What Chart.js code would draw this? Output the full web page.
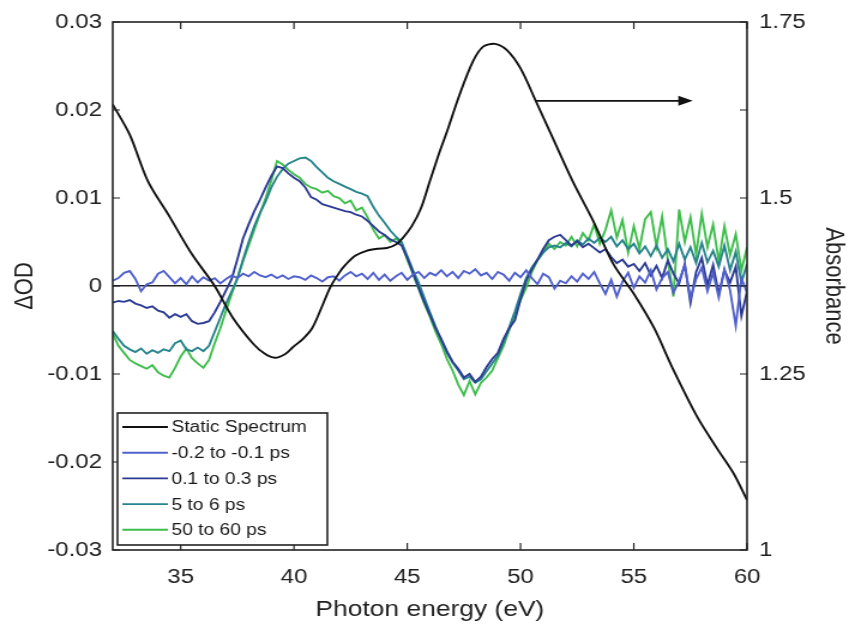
<!DOCTYPE html>
<html>
<head>
<meta charset="utf-8">
<script src="https://cdn.jsdelivr.net/npm/chart.js@4.4.1/dist/chart.umd.min.js"></script>
<style>
  html, body { margin: 0; padding: 0; background: #fff; }
  #chart { display: block; }
</style>
</head>
<body>
<!-- the source figure is stretched sideways, so the canvas is drawn narrower and widened by css -->
<canvas id="chart" width="708" height="632" style="width:849px;height:632px"></canvas>
<script>
  // photon energy grid of the transient spectra (eV)
  const ENERGY = [
    32, 32.25, 32.5, 32.75, 33, 33.25, 33.5, 33.75, 34, 34.25, 34.5, 34.75,
    35, 35.25, 35.5, 35.75, 36, 36.25, 36.5, 36.75, 37, 37.25, 37.5, 37.75,
    38, 38.25, 38.5, 38.75, 39, 39.25, 39.5, 39.75, 40, 40.25, 40.5, 40.75,
    41, 41.25, 41.5, 41.75, 42, 42.25, 42.5, 42.75, 43, 43.25, 43.5, 43.75,
    44, 44.25, 44.5, 44.75, 45, 45.25, 45.5, 45.75, 46, 46.25, 46.5, 46.75,
    47, 47.25, 47.5, 47.75, 48, 48.25, 48.5, 48.75, 49, 49.25, 49.5, 49.75,
    50, 50.25, 50.5, 50.75, 51, 51.25, 51.5, 51.75, 52, 52.25, 52.5, 52.75,
    53, 53.25, 53.5, 53.75, 54, 54.25, 54.5, 54.75, 55, 55.25, 55.5, 55.75,
    56, 56.25, 56.5, 56.75, 57, 57.25, 57.5, 57.75, 58, 58.25, 58.5, 58.75,
    59, 59.25, 59.5, 59.75, 60
  ];

  // transient spectra, in mOD (converted to OD when the datasets are built)
  const DELAY_NEG = [
    0.6, 0.9, 1.5, 1.7, 0.8, -0.6, 0.2, 0.4, 1.4, 1.7, 1.0, 0.3,
    0.9, 0.2, 1.1, 0.4, 1.0, 0.6, 0.9, 0.3, 0.8, 1.2, 0.9, 1.4,
    1.1, 1.6, 1.2, 1.0, 1.3, 0.9, 1.2, 0.8, 1.1, 1.0, 0.7, 1.2,
    0.9, 0.5, 1.0, 1.1, 0.6, 1.2, 1.6, 1.1, 1.4, 0.8, 1.5, 0.7,
    1.3, 0.6, 1.1, 1.5, 0.7, 1.3, 1.6, 0.9, 1.5, 1.2, 1.8, 1.1,
    1.6, 0.9, 1.7, 1.4, 1.9, 1.2, 1.5, 0.8, 1.6, 1.3, 0.6, 1.5,
    1.0, 1.8, 0.9, 0.2, 1.4, 1.0, -0.3, 0.6, 0.3, 1.1, 0.5, 1.4,
    0.8, 1.6, 0.3, -0.9, 0.7, -1.2, 0.5, 1.5, -0.2, 1.1, 0.4, 1.8,
    -0.4, 0.9, 1.6, -0.8, 0.6, 2.3, -1.4, 0.8, 2.1, -0.6, 1.5, -1.3,
    1.9, -0.5, -4.5, 0.9, -0.8
  ];
  const DELAY_SHORT = [
    -1.9, -1.7, -1.8, -1.6, -2.0, -2.2, -2.5, -2.3, -2.8, -3.0, -3.6, -3.2,
    -3.5, -3.2, -4.0, -4.3, -4.2, -4.0, -3.0, -1.8, -0.5, 0.8, 3.0, 5.4,
    7.0, 8.5, 9.8, 11.2, 12.5, 13.6, 13.4, 12.8, 12.3, 11.9, 11.2, 10.1,
    9.8, 9.3, 9.1, 8.9, 8.7, 8.5, 8.4, 8.1, 7.9, 7.4, 6.8, 6.2,
    5.8, 5.3, 5.0, 4.6, 3.2, 1.5, -0.2, -1.8, -3.3, -4.8, -6.0, -7.4,
    -8.6, -9.4, -10.4, -10.0, -10.9, -10.3, -9.2, -8.3, -7.6, -6.0, -4.8, -3.9,
    -1.5, 0.6, 1.9, 3.0, 4.2, 5.2, 5.6, 5.8, 5.2, 4.6, 5.1, 4.4,
    4.8, 4.3, 3.8, 4.2, 3.3, 2.6, 3.0, 2.2, 2.5, 1.7, 2.6, 1.2,
    2.3, 0.9, 2.9, 1.4, 0.3, 2.5, -1.9, 1.6, 3.2, 0.1, 2.4, -0.9,
    1.8, 0.4, 2.2, -3.4, -0.6
  ];
  const DELAY_MID = [
    -5.1, -6.0, -6.8, -7.2, -7.5, -7.1, -7.7, -7.3, -7.6, -7.2, -7.4, -6.5,
    -6.2, -7.2, -7.4, -7.0, -7.4, -6.8, -5.2, -3.6, -2.0, -0.6, 0.8, 3.0,
    5.0, 6.8, 8.3, 9.6, 11.2, 12.4, 13.3, 13.9, 14.2, 14.5, 14.6, 14.2,
    13.5, 12.9, 12.3, 11.9, 11.6, 11.3, 11.0, 10.7, 10.5, 10.2, 9.0, 8.0,
    7.2, 6.3, 5.6, 5.0, 3.4, 1.8, 0.4, -1.3, -3.0, -4.6, -6.2, -7.6,
    -8.7, -9.6, -10.6, -10.3, -11.0, -10.6, -9.7, -8.8, -7.9, -6.4, -4.7, -2.9,
    -0.9, 0.9, 2.1, 3.0, 3.8, 4.4, 4.6, 4.4, 4.9, 4.5, 5.2, 4.7,
    5.4, 4.9, 5.5, 5.0, 5.6, 4.5, 5.2, 4.2, 4.8, 3.7, 4.5, 3.4,
    4.6, 3.2, 4.2, 2.8, 4.8, 3.0, 4.4, 2.6, 4.9, 2.7, 4.0, 2.2,
    4.6, 1.8, 3.9, 0.4, 2.5
  ];
  const DELAY_LONG = [
    -5.4, -6.8, -7.6, -8.4, -8.8, -9.1, -9.4, -9.0, -9.8, -10.2, -10.4, -9.3,
    -8.0, -7.1, -8.2, -8.8, -9.3, -8.4, -6.5, -4.8, -2.8, -0.9, 0.9, 2.8,
    4.6, 6.4, 8.2, 10.0, 12.0, 14.2, 13.8, 13.2, 12.7, 12.3, 11.6, 11.2,
    11.0, 10.6, 10.8, 10.2, 10.0, 9.4, 9.7, 8.6, 8.9, 7.8, 6.4, 5.4,
    5.8, 5.0, 5.4, 4.8, 3.0, 1.4, -0.3, -2.0, -3.5, -5.2, -6.6, -8.3,
    -9.6, -11.2, -12.4, -10.8, -12.3, -11.0, -10.4, -9.6, -8.2, -6.8, -5.0, -3.3,
    -1.6, -0.2, 1.6, 2.9, 3.8, 4.8, 4.2, 5.0, 4.6, 5.6, 4.5, 6.0,
    5.2, 7.0, 4.8, 6.4, 8.6, 5.5, 7.5, 3.8, 6.8, 4.2, 7.6, 8.4,
    4.5, 7.9, 3.0, -1.2, 8.7, 5.0, 7.8, 3.6, 8.2, 4.4, 7.0, 2.8,
    6.8, 3.5, 5.9, 1.8, 4.4
  ];

  // static absorbance spectrum (right axis)
  const STATIC_ENERGY = [
    32, 32.75, 33.55, 34.5, 35.5, 36.5, 37.3, 38.2, 38.7, 39.16, 39.6, 39.95,
    40.4, 40.8, 41.2, 41.6, 42, 42.3, 42.7, 43.2, 43.7, 44.1, 44.5, 44.8,
    45.2, 45.6, 46, 46.4, 46.75, 47.3, 47.9, 48.35, 48.87, 49.4, 50, 50.7,
    51.3, 52.3, 53.2, 54.1, 55, 55.9, 56.7, 57.8, 58.7, 59.4, 60
  ];
  const STATIC_ABS = [
    1.633, 1.590, 1.524, 1.474, 1.420, 1.375, 1.330, 1.293, 1.279, 1.273, 1.278, 1.288,
    1.300, 1.315, 1.343, 1.373, 1.394, 1.406, 1.418, 1.425, 1.428, 1.429, 1.434, 1.443,
    1.460, 1.485, 1.524, 1.563, 1.594, 1.646, 1.694, 1.715, 1.719, 1.710, 1.684, 1.636,
    1.594, 1.524, 1.468, 1.406, 1.364, 1.315, 1.259, 1.189, 1.143, 1.109, 1.071
  ];

  const SERIES_LABELS = ['Static Spectrum', '-0.2 to -0.1 ps', '0.1 to 0.3 ps', '5 to 6 ps', '50 to 60 ps'];
  const SERIES_COLORS = ['#111111', '#5060cc', '#2c3b92', '#27838c', '#3fbd4c'];

  const X_TICKS = [35, 40, 45, 50, 55, 60];
  const LEFT_TICKS = [-0.03, -0.02, -0.01, 0, 0.01, 0.02, 0.03];
  const RIGHT_TICKS = [1, 1.125, 1.25, 1.375, 1.5, 1.625, 1.75];

  // arrow pointing at the absorbance axis (data units of x / right axis)
  const ARROW_FROM = 50.65;
  const ARROW_TO = 57.6;
  const ARROW_ABS = 1.638;

  const FONT = 'Liberation Sans, Arial, Helvetica, sans-serif';
  const INK = '#222222';
  const TICK_LEN = 6;
  const LINE_W = 1.9;

  const toPoints = (xs, ys, k) => xs.map((x, i) => ({ x, y: ys[i] * k }));

  // box + inward ticks, matlab style
  const framePlugin = {
    id: 'frame',
    afterDraw (chart) {
      const { ctx, chartArea: a, scales } = chart;
      ctx.save();
      ctx.strokeStyle = INK;
      ctx.lineWidth = 1.6;
      ctx.strokeRect(a.left, a.top, a.right - a.left, a.bottom - a.top);
      ctx.lineWidth = 1.2;
      ctx.beginPath();
      scales.x.ticks.forEach(t => {
        const px = scales.x.getPixelForValue(t.value);
        ctx.moveTo(px, a.bottom); ctx.lineTo(px, a.bottom - TICK_LEN - 1);
        ctx.moveTo(px, a.top); ctx.lineTo(px, a.top + TICK_LEN + 1);
      });
      scales.y.ticks.forEach(t => {
        const py = scales.y.getPixelForValue(t.value);
        ctx.moveTo(a.left, py); ctx.lineTo(a.left + TICK_LEN, py);
      });
      scales.y1.ticks.forEach(t => {
        const py = scales.y1.getPixelForValue(t.value);
        ctx.moveTo(a.right, py); ctx.lineTo(a.right - TICK_LEN, py);
      });
      ctx.stroke();
      ctx.restore();
    }
  };

  const arrowPlugin = {
    id: 'arrow',
    afterDatasetsDraw (chart) {
      const { ctx, scales } = chart;
      const x0 = scales.x.getPixelForValue(ARROW_FROM);
      const x1 = scales.x.getPixelForValue(ARROW_TO);
      const y = scales.y1.getPixelForValue(ARROW_ABS);
      ctx.save();
      ctx.strokeStyle = '#111';
      ctx.fillStyle = '#111';
      ctx.lineWidth = 1.8;
      ctx.beginPath();
      ctx.moveTo(x0, y); ctx.lineTo(x1 - 8, y);
      ctx.stroke();
      ctx.beginPath();
      ctx.moveTo(x1, y); ctx.lineTo(x1 - 12, y - 5); ctx.lineTo(x1 - 12, y + 5);
      ctx.closePath();
      ctx.fill();
      ctx.restore();
    }
  };

  // legend box sitting in the lower left corner of the plot
  const boxLegendPlugin = {
    id: 'boxLegend',
    afterDraw (chart) {
      const { ctx, chartArea: a } = chart;
      const left = a.left + 4;
      const top = a.bottom - 137;
      const w = 175;
      const h = 132;
      const row = 25.7;
      ctx.save();
      ctx.fillStyle = '#fff';
      ctx.fillRect(left, top, w, h);
      ctx.strokeStyle = INK;
      ctx.lineWidth = 1.6;
      ctx.strokeRect(left, top, w, h);
      ctx.font = '16px ' + FONT;
      ctx.textBaseline = 'middle';
      chart.data.datasets.forEach((ds, i) => {
        const y = top + 14 + i * row;
        ctx.strokeStyle = ds.borderColor;
        ctx.lineWidth = LINE_W;
        ctx.beginPath();
        ctx.moveTo(left + 4, y); ctx.lineTo(left + 42, y);
        ctx.stroke();
        ctx.fillStyle = '#1a1a1a';
        ctx.fillText(ds.label, left + 45, y + 1);
      });
      ctx.restore();
    }
  };

  const transient = [DELAY_NEG, DELAY_SHORT, DELAY_MID, DELAY_LONG];
  const datasets = [{
    label: SERIES_LABELS[0],
    data: toPoints(STATIC_ENERGY, STATIC_ABS, 1),
    yAxisID: 'y1',
    borderColor: SERIES_COLORS[0],
    borderWidth: LINE_W,
    pointRadius: 0,
    tension: 0.3
  }].concat(transient.map((ys, i) => ({
    label: SERIES_LABELS[i + 1],
    data: toPoints(ENERGY, ys, 0.001),
    yAxisID: 'y',
    borderColor: SERIES_COLORS[i + 1],
    borderWidth: LINE_W,
    pointRadius: 0,
    tension: 0
  })));

  const tickFont = { family: FONT, size: 20 };
  const titleFont = { family: FONT, size: 22 };

  new Chart(document.getElementById('chart'), {
    type: 'line',
    data: { datasets },
    options: {
      responsive: false,
      animation: false,
      devicePixelRatio: 1,
      events: [],
      layout: { padding: { top: 20, left: 0, right: 0, bottom: 0 } },
      plugins: { legend: { display: false }, tooltip: { enabled: false } },
      scales: {
        x: {
          type: 'linear',
          min: 32,
          max: 60,
          grid: { display: false, drawTicks: false },
          border: { display: false },
          afterBuildTicks: s => { s.ticks = X_TICKS.map(v => ({ value: v })); },
          afterFit: s => { s.height = 82; },
          ticks: { font: tickFont, color: INK, padding: 15, maxRotation: 0 },
          title: { display: true, text: 'Photon energy (eV)', font: titleFont, color: INK, padding: { top: 0, bottom: 9 } }
        },
        y: {
          position: 'left',
          min: -0.03,
          max: 0.03,
          grid: {
            drawTicks: false,
            lineWidth: 1.6,
            color: c => (c.tick && c.tick.value === 0 ? INK : 'rgba(0,0,0,0)')
          },
          border: { display: false },
          afterBuildTicks: s => { s.ticks = LEFT_TICKS.map(v => ({ value: v })); },
          afterFit: s => { s.width = 94; },
          ticks: {
            font: tickFont,
            color: INK,
            padding: 9,
            callback: v => (v === 0 ? '0' : v.toFixed(2))
          },
          title: { display: true, text: 'ΔOD', font: titleFont, color: INK, padding: { top: 8, bottom: 0 } }
        },
        y1: {
          position: 'right',
          min: 1,
          max: 1.75,
          grid: { display: false, drawTicks: false },
          border: { display: false },
          afterBuildTicks: s => { s.ticks = RIGHT_TICKS.map(v => ({ value: v })); },
          afterFit: s => { s.width = 85; },
          ticks: {
            font: tickFont,
            color: INK,
            padding: 10,
            callback: v => (Math.abs(v * 4 - Math.round(v * 4)) < 1e-9 ? String(+v.toFixed(2)) : '')
          },
          title: { display: true, text: 'Absorbance', font: titleFont, color: INK, padding: { top: 0, bottom: 0 } }
        }
      }
    },
    plugins: [arrowPlugin, framePlugin, boxLegendPlugin]
  });
</script>
</body>
</html>
